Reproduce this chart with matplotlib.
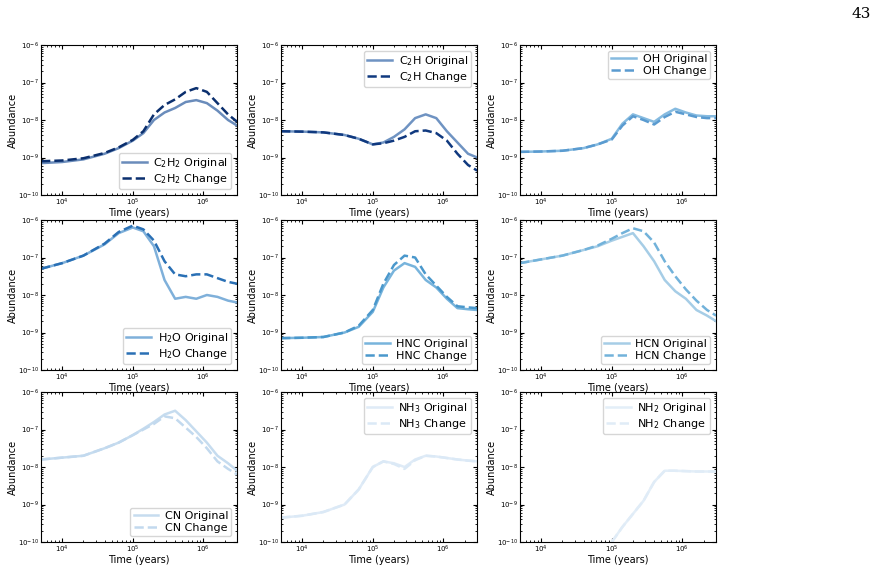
import numpy as np
import matplotlib
matplotlib.use('Agg')
import matplotlib.pyplot as plt

# log10(time) sample points
logt = [3.7, 4.0, 4.3, 4.6, 4.8, 5.0, 5.15, 5.3, 5.45, 5.6, 5.75, 5.9, 6.05, 6.2, 6.35, 6.48]

species = ['C$_2$H$_2$', 'C$_2$H', 'OH', 'H$_2$O', 'HNC', 'HCN', 'CN', 'NH$_3$', 'NH$_2$']

# log10 abundances, original network
orig = [
    [-9.15, -9.12, -9.05, -8.9, -8.75, -8.55, -8.35, -8.0, -7.8, -7.68, -7.52, -7.47, -7.55, -7.75, -8.0, -8.15],
    [-8.3, -8.31, -8.33, -8.4, -8.5, -8.65, -8.6, -8.45, -8.25, -7.95, -7.85, -7.95, -8.3, -8.6, -8.9, -9.0],
    [-8.85, -8.84, -8.82, -8.75, -8.65, -8.5, -8.1, -7.85, -7.95, -8.05, -7.85, -7.7, -7.8, -7.88, -7.9, -7.9],
    [-7.3, -7.15, -6.95, -6.65, -6.35, -6.2, -6.3, -6.7, -7.6, -8.1, -8.05, -8.1, -8.0, -8.05, -8.15, -8.2],
    [-9.15, -9.14, -9.12, -9.0, -8.85, -8.45, -7.8, -7.35, -7.15, -7.25, -7.6, -7.8, -8.1, -8.35, -8.38, -8.4],
    [-7.15, -7.05, -6.95, -6.8, -6.7, -6.55, -6.45, -6.35, -6.7, -7.1, -7.6, -7.9, -8.1, -8.4, -8.55, -8.7],
    [-7.8, -7.75, -7.7, -7.5, -7.35, -7.15, -6.98, -6.8, -6.6, -6.5, -6.75, -7.05, -7.35, -7.7, -7.9, -8.1],
    [-9.35, -9.3, -9.2, -9.0, -8.6, -8.0, -7.85, -7.9, -8.0, -7.8, -7.7, -7.72, -7.76, -7.8, -7.83, -7.85],
    [np.nan, np.nan, np.nan, np.nan, np.nan, -10.0, -9.6, -9.25, -8.9, -8.4, -8.1, -8.1, -8.11, -8.12, -8.12, -8.12],
]

# log10 abundances, changed network
change = [
    [-9.1, -9.08, -9.02, -8.88, -8.73, -8.53, -8.3, -7.85, -7.6, -7.45, -7.25, -7.15, -7.25, -7.55, -7.85, -8.05],
    [-8.3, -8.31, -8.33, -8.4, -8.5, -8.65, -8.62, -8.55, -8.45, -8.3, -8.28, -8.35, -8.55, -8.9, -9.2, -9.35],
    [-8.85, -8.84, -8.82, -8.75, -8.65, -8.52, -8.15, -7.9, -8.0, -8.12, -7.92, -7.78, -7.85, -7.92, -7.95, -7.95],
    [-7.3, -7.15, -6.95, -6.63, -6.32, -6.15, -6.25, -6.55, -7.1, -7.45, -7.5, -7.45, -7.45, -7.55, -7.65, -7.7],
    [-9.15, -9.14, -9.12, -9.0, -8.82, -8.4, -7.7, -7.2, -6.95, -7.0, -7.45, -7.75, -8.05, -8.3, -8.33, -8.35],
    [-7.15, -7.05, -6.95, -6.8, -6.68, -6.5, -6.35, -6.22, -6.3, -6.6, -7.1, -7.5, -7.85, -8.15, -8.4, -8.55],
    [-7.8, -7.75, -7.7, -7.5, -7.35, -7.15, -7.0, -6.85, -6.65, -6.7, -6.95, -7.2, -7.5, -7.85, -8.05, -8.2],
    [-9.35, -9.3, -9.2, -9.0, -8.6, -8.0, -7.85, -7.92, -8.05, -7.82, -7.7, -7.72, -7.76, -7.8, -7.83, -7.85],
    [np.nan, np.nan, np.nan, np.nan, np.nan, -10.0, -9.6, -9.25, -8.9, -8.4, -8.1, -8.1, -8.11, -8.12, -8.12, -8.12],
]

orig_colors = ['#6a8cbb', '#6f93c2', '#86bbe0', '#7fb0da', '#78b4dc', '#a6cde6', '#c6dcef', '#dfebf7', '#e3eef8']
change_colors = ['#0b2f6e', '#10397f', '#5a9bd0', '#2a70b5', '#4a98cc', '#72b2da', '#c2d9ee', '#dbe9f6', '#e0ecf7']
legend_loc = ['lower right', 'upper right', 'upper right', 'lower right', 'lower right',
              'lower right', 'lower right', 'upper right', 'upper right']

fig = plt.figure(figsize=(8.78, 5.84), dpi=100)
W, H = 878, 584
lefts = [41, 281, 520]
tops = [45, 220, 392]
aw, ah = 196, 150

t = 10 ** np.array(logt)
for i, name in enumerate(species):
    r, c = divmod(i, 3)
    ax = fig.add_axes([lefts[c] / W, 1 - (tops[r] + ah) / H, aw / W, ah / H])
    ax.plot(t, 10 ** np.array(orig[i]), color=orig_colors[i], lw=1.8, label=name + ' Original')
    ax.plot(t, 10 ** np.array(change[i]), color=change_colors[i], lw=1.8, ls='--', label=name + ' Change')
    ax.set_xscale('log')
    ax.set_yscale('log')
    ax.set_xlim(5e3, 3e6)
    ax.set_ylim(1e-10, 1e-6)
    ax.tick_params(which='both', direction='in', top=True, right=True, labelsize=5, pad=1.5)
    ax.tick_params(which='major', length=3)
    ax.tick_params(which='minor', length=1.5)
    ax.set_xlabel('Time (years)', fontsize=7, labelpad=0)
    ax.set_ylabel('Abundance', fontsize=7, labelpad=0)
    ax.legend(loc=legend_loc[i], fontsize=8, handlelength=2.2, borderpad=0.3,
              labelspacing=0.2, handletextpad=0.6)

fig.text(871 / W, 1 - 14 / H, '43', ha='right', va='center', fontsize=11, family='DejaVu Serif')
fig.savefig('out.png', dpi=100)
